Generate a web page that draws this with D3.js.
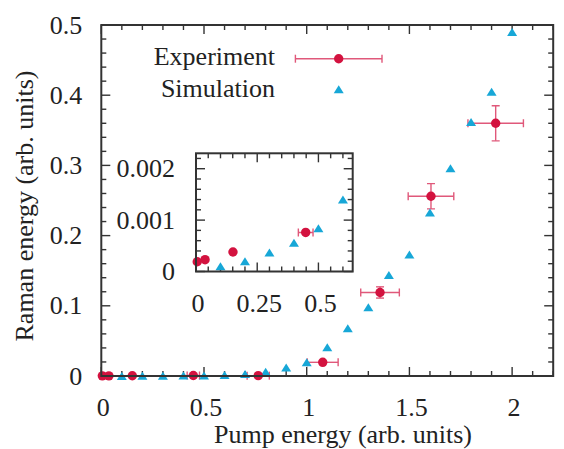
<!DOCTYPE html>
<html><head><meta charset="utf-8">
<script src="https://cdn.jsdelivr.net/npm/d3@7"></script>
<style>body{margin:0;background:#fff}svg{display:block}</style>
</head><body>
<svg id="c" width="564" height="449" font-family="'Liberation Serif', 'Times New Roman', Times, 'DejaVu Serif', serif"></svg>
<script>
// Data
const simX = [0.1,0.2,0.3,0.4,0.5,0.6,0.7,0.8,0.9,1.0,1.1,1.2,1.3,1.4,1.5,1.6,1.7,1.8,1.9,2.0];
const simY = [0.0001,0.0002,0.00037,0.00056,0.00084,0.0014,0.003,0.006,0.012,0.0195,0.041,0.068,0.098,0.144,0.173,0.233,0.296,0.362,0.405,0.49];
const expX = [0.005,0.037,0.151,0.448,0.764,1.078,1.357,1.605,1.92];
const expY = [0.00019,0.00023,0.00038,0.00076,0.0005,0.0195,0.119,0.256,0.36];
const expXErr = [0,0,0,0.03,0.054,0.075,0.094,0.111,0.135];
const expYErr = [0,0,0,0,0,0,0.008,0.018,0.025];
const mainXTicks = [0,0.5,1,1.5,2];
const mainYTicks = [0,0.1,0.2,0.3,0.4,0.5];
const insetXTicks = [0,0.25,0.5];
const insetYTicks = [0,0.001,0.002];
const seriesNames = ["Experiment","Simulation"];

const RED = "#d3123f", ERR = "#e0587a", BLUE = "#17a7d7", AX = "#333", TXT = "#222";
const svg = d3.select("#c");
const sim = simX.map((x,i)=>({x, y:simY[i]}));
const exp = expX.map((x,i)=>({x, y:expY[i], ex:expXErr[i], ey:expYErr[i]}));

function triPath(s){ // triangle with bbox centered at origin
  const w=s, h=s*0.8;
  return `M0,${-h/2}L${w/2},${h/2}L${-w/2},${h/2}Z`;
}

function panel(g, x, y, o){
  const [x0,x1]=x.range(), [y0,y1]=y.range();
  g.append("rect").attr("x",x0).attr("y",y1).attr("width",x1-x0).attr("height",y0-y1).attr("fill","#fff");
  const tk = g.append("g").attr("stroke",AX).attr("stroke-width",1.4);
  const xs = d3.range(0, Math.round(x.domain()[1]/o.xminor)+1).map(i=>i*o.xminor).filter(v=>v<=x.domain()[1]+1e-9);
  xs.forEach(v=>{
    const major = Math.abs(v/o.xmajor-Math.round(v/o.xmajor))<1e-6;
    const L = major?9:5;
    tk.append("line").attr("x1",x(v)).attr("x2",x(v)).attr("y1",y0).attr("y2",y0-L);
    tk.append("line").attr("x1",x(v)).attr("x2",x(v)).attr("y1",y1).attr("y2",y1+L);
  });
  const ys = d3.range(0, Math.round(y.domain()[1]/o.yminor)+1).map(i=>i*o.yminor).filter(v=>v<=y.domain()[1]+1e-12);
  ys.forEach(v=>{
    const major = o.yt.some(t=>Math.abs(t-v)<1e-12);
    const L = major?9:5;
    tk.append("line").attr("y1",y(v)).attr("y2",y(v)).attr("x1",x0).attr("x2",x0+L);
    tk.append("line").attr("y1",y(v)).attr("y2",y(v)).attr("x1",x1).attr("x2",x1-L);
  });
  g.selectAll(null).data(o.xt).enter().append("text").attr("x",d=>x(d)+2).attr("y",y0+o.xlab)
    .attr("text-anchor","middle").attr("font-size",26).attr("fill",TXT).text(o.xf);
  g.selectAll(null).data(o.yt).enter().append("text").attr("x",x0-o.ylab).attr("y",d=>y(d)+8.5)
    .attr("text-anchor","end").attr("font-size",26).attr("fill",TXT).text(o.yf);
  const cp = "clip"+o.id;
  g.append("clipPath").attr("id",cp).append("rect").attr("x",x0-6).attr("y",y1-6).attr("width",x1-x0+12).attr("height",y0-y1+12);
  const d = g.append("g").attr("clip-path",`url(#${cp})`);
  const ex = exp.filter(p=>p.x<=x.domain()[1]);
  const eb = d.append("g").attr("stroke",ERR).attr("stroke-width",1.4).attr("fill","none");
  ex.filter(p=>p.ex>0).forEach(p=>{
    eb.append("line").attr("x1",x(p.x-p.ex)).attr("x2",x(p.x+p.ex)).attr("y1",y(p.y)).attr("y2",y(p.y));
    [p.x-p.ex,p.x+p.ex].forEach(v=>eb.append("line").attr("x1",x(v)).attr("x2",x(v)).attr("y1",y(p.y)-4).attr("y2",y(p.y)+4));
  });
  ex.filter(p=>p.ey>0).forEach(p=>{
    eb.append("line").attr("x1",x(p.x)).attr("x2",x(p.x)).attr("y1",y(p.y-p.ey)).attr("y2",y(p.y+p.ey));
    [p.y-p.ey,p.y+p.ey].forEach(v=>eb.append("line").attr("y1",y(v)).attr("y2",y(v)).attr("x1",x(p.x)-4).attr("x2",x(p.x)+4));
  });
  d.selectAll(null).data(sim.filter(p=>p.x<=x.domain()[1])).enter().append("path")
    .attr("d",triPath(10)).attr("fill",BLUE).attr("transform",p=>`translate(${x(p.x)},${y(p.y)})`);
  d.selectAll(null).data(ex).enter().append("circle").attr("cx",p=>x(p.x)).attr("cy",p=>y(p.y)).attr("r",4.7).attr("fill",RED);
  g.append("rect").attr("x",x0).attr("y",y1).attr("width",x1-x0).attr("height",y0-y1)
    .attr("fill","none").attr("stroke",AX).attr("stroke-width",2);
}

const xM = d3.scaleLinear().domain([0,2.2]).range([101.3,553.2]);
const yM = d3.scaleLinear().domain([0,0.5]).range([376,25]);
panel(svg.append("g"), xM, yM, {id:"m", xminor:0.1, xmajor:0.5, yminor:0.02, xt:mainXTicks, yt:mainYTicks,
  xf:d=>d3.format("~g")(d), yf:d=>d3.format("~g")(d), xlab:40, ylab:19});

// legend
const lg = svg.append("g");
lg.append("text").attr("x",275).attr("y",65).attr("text-anchor","end").attr("font-size",26).attr("fill",TXT).text(seriesNames[0]);
lg.append("text").attr("x",275).attr("y",97.3).attr("text-anchor","end").attr("font-size",26).attr("fill",TXT).text(seriesNames[1]);
const lx = 338.7, ly1 = 58.7, ly2 = 89.3, lw = 43.3;
lg.append("line").attr("x1",lx-lw).attr("x2",lx+lw).attr("y1",ly1).attr("y2",ly1).attr("stroke",ERR).attr("stroke-width",1.4);
[lx-lw,lx+lw].forEach(v=>lg.append("line").attr("x1",v).attr("x2",v).attr("y1",ly1-4).attr("y2",ly1+4).attr("stroke",ERR).attr("stroke-width",1.4));
lg.append("circle").attr("cx",lx).attr("cy",ly1).attr("r",4.7).attr("fill",RED);
lg.append("path").attr("d",triPath(10)).attr("fill",BLUE).attr("transform",`translate(${lx},${ly2})`);

// inset
const xI = d3.scaleLinear().domain([0,0.64]).range([196,352.7]);
const yI = d3.scaleLinear().domain([0,0.0023]).range([271.5,153.3]);
panel(svg.append("g"), xI, yI, {id:"i", xminor:0.05, xmajor:0.25, yminor:0.0002, xt:insetXTicks, yt:insetYTicks,
  xf:d=>d3.format("~g")(d), yf:d=>d===0?"0":d3.format(".3f")(d), xlab:40, ylab:21});

// axis titles
svg.append("text").attr("x",343).attr("y",442.7).attr("text-anchor","middle").attr("font-size",26).attr("fill",TXT).text("Pump energy (arb. units)");
svg.append("text").attr("transform","translate(32.5,206) rotate(-90)").attr("text-anchor","middle").attr("font-size",26).attr("fill",TXT).text("Raman energy (arb. units)");
</script>
</body></html>
